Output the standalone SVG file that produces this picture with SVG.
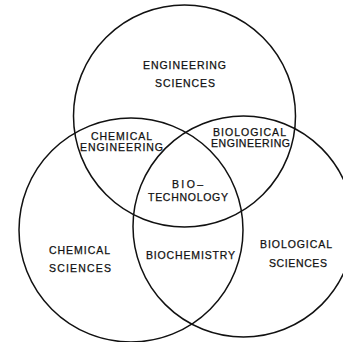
<svg xmlns="http://www.w3.org/2000/svg" width="343" height="342" viewBox="0 0 343 342">
<style>
.c{fill:none;stroke:#111;stroke-width:1.5}
.t{font-family:"Liberation Sans",Arial,sans-serif;font-size:10.5px;fill:#111;text-anchor:middle;stroke:#111;stroke-width:0.25}
</style>
<rect width="343" height="342" fill="#fff"/>
<g id="engineering-sciences">
<circle class="c" cx="184.5" cy="116" r="111"/>
<text class="t" x="184.5" y="69" textLength="83" lengthAdjust="spacing">ENGINEERING</text>
<text class="t" x="185" y="87" textLength="60" lengthAdjust="spacing">SCIENCES</text>
</g>
<g id="chemical-sciences">
<circle class="c" cx="131" cy="230" r="112"/>
<text class="t" x="79.5" y="254" textLength="61" lengthAdjust="spacing">CHEMICAL</text>
<text class="t" x="80" y="272" textLength="62" lengthAdjust="spacing">SCIENCES</text>
</g>
<g id="biological-sciences">
<circle class="c" cx="243.5" cy="226.5" r="110.5"/>
<text class="t" x="296" y="248" textLength="72" lengthAdjust="spacing">BIOLOGICAL</text>
<text class="t" x="298" y="267" textLength="58" lengthAdjust="spacing">SCIENCES</text>
</g>
<g id="chemical-engineering">
<text class="t" x="121.5" y="140" textLength="61" lengthAdjust="spacing">CHEMICAL</text>
<text class="t" x="121.5" y="151" textLength="83" lengthAdjust="spacing">ENGINEERING</text>
</g>
<g id="biological-engineering">
<text class="t" x="249.5" y="136" textLength="73" lengthAdjust="spacing">BIOLOGICAL</text>
<text class="t" x="250.5" y="147" textLength="79" lengthAdjust="spacing">ENGINEERING</text>
</g>
<g id="biotechnology">
<text class="t" x="187.5" y="188" textLength="31" lengthAdjust="spacing">BIO–</text>
<text class="t" x="188" y="201" textLength="80" lengthAdjust="spacing">TECHNOLOGY</text>
</g>
<g id="biochemistry">
<text class="t" x="190.5" y="259" textLength="89" lengthAdjust="spacing">BIOCHEMISTRY</text>
</g>
<g id="connectors"/>
</svg>
